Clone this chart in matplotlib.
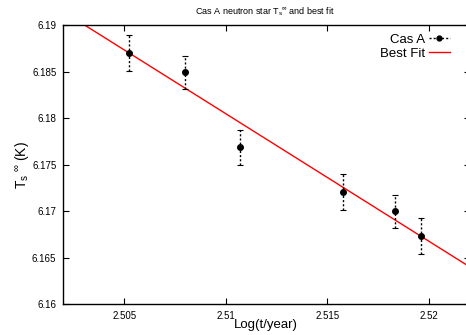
import matplotlib
matplotlib.use("Agg")
import matplotlib.pyplot as plt
from matplotlib.lines import Line2D
import numpy as np

plt.rcParams['font.family'] = ['Liberation Sans', 'DejaVu Sans']

# Data
log_t = [2.50525, 2.50799, 2.51069, 2.51576, 2.51831, 2.51959]
log_T = [6.18702, 6.18494, 6.17685, 6.17207, 6.16997, 6.16731]
err_T = [0.0019, 0.0018, 0.0019, 0.0019, 0.0018, 0.0019]

# Best fit line (slope / reference point)
fit_x0 = 2.50307
fit_y0 = 6.19
fit_slope = -1.3735
fit_x = np.array([2.500, 2.525])
fit_y = fit_y0 + fit_slope * (fit_x - fit_x0)

xticks = [2.505, 2.51, 2.515, 2.52]
xtick_labels = ["2.505", "2.51", "2.515", "2.52"]
yticks = [6.16, 6.165, 6.17, 6.175, 6.18, 6.185, 6.19]
ytick_labels = ["6.16", "6.165", "6.17", "6.175", "6.18", "6.185", "6.19"]

W, H = 466, 335
fig = plt.figure(figsize=(W / 100, H / 100), dpi=100)
left_px, right_px, top_px, bot_px = 63.3, 469.7, 25.3, 304.0
aw, ah = right_px - left_px, bot_px - top_px
ax = fig.add_axes([left_px / W, 1 - bot_px / H, aw / W, ah / H])

ax.plot(fit_x, fit_y, color='#ff0000', lw=1.0, zorder=2)
eb = ax.errorbar(log_t, log_T, yerr=err_T, fmt='o', color='black', ms=4,
                 elinewidth=1.0, capsize=2, capthick=0.8, zorder=3)
for col in eb[2]:
    col.set_linestyle((0, (1.5, 1.5)))

ax.set_xlim(2.502, 2.522)
ax.set_ylim(6.16, 6.19)
ax.set_xticks(xticks)
ax.set_xticklabels(xtick_labels)
ax.set_yticks(yticks)
ax.set_yticklabels(ytick_labels)
ax.tick_params(direction='in', length=4, width=0.8, labelsize=7, top=True, right=True, pad=5)
for s in ax.spines.values():
    s.set_linewidth(1.0)

ax.set_xlabel("Log(t/year)", fontsize=9.5)
ax.xaxis.set_label_coords((266 - left_px) / aw, -(325 - bot_px) / ah)
ax.xaxis.label.set_va('center')
ax.set_ylabel(r"T$_\mathregular{s}$$^\mathregular{\ \infty}$ (K)", fontsize=10)
ax.yaxis.set_label_coords(-(left_px - 22) / aw, (bot_px - 165) / ah)
ax.yaxis.label.set_va('center')
fig.text((left_px + 466) / 2 / W, 1 - 12 / H, r"Cas A neutron star T$_\mathregular{s}$$^\mathregular{\infty}$ and best fit",
         ha='center', va='center', fontsize=6.5)

h_data = Line2D([], [], color='black', ls=(0, (1.5, 1.5)), lw=1.0, marker='o', ms=3.5)
h_fit = Line2D([], [], color='#ff0000', lw=1.0)
leg = ax.legend([h_data, h_fit], ["Cas A", "Best Fit"], loc='upper right',
                bbox_to_anchor=((459 - left_px) / aw, 1.0 + 1 / ah),
                frameon=False, markerfirst=False, fontsize=9.5, handlelength=1.6,
                handletextpad=0.3, labelspacing=0.15, borderaxespad=0.3, numpoints=1)

fig.savefig("out.png", dpi=100)
